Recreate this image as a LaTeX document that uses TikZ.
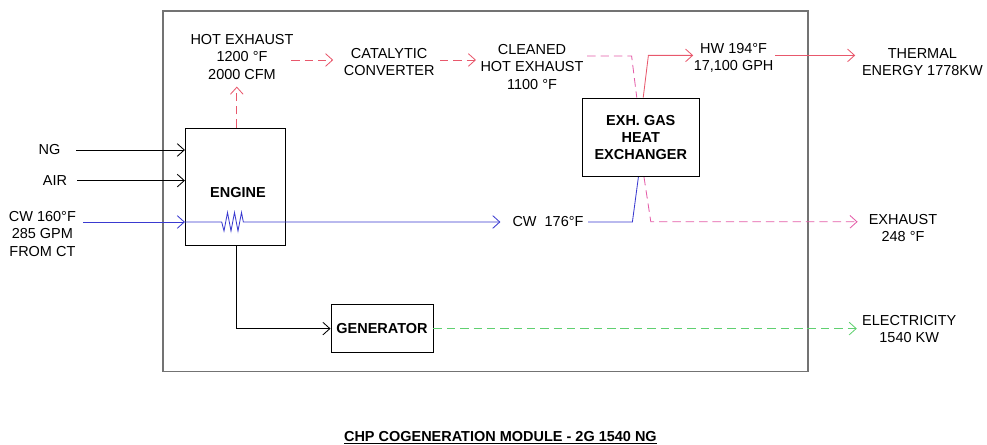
\documentclass[tikz,border=0pt]{standalone}
\usepackage{fontspec}
\setmainfont{Liberation Sans}
\usetikzlibrary{arrows.meta,calc,positioning}
\definecolor{gasred}{RGB}{232,88,108}
\definecolor{gaspink}{RGB}{228,92,168}
\definecolor{cwblue}{RGB}{58,58,208}
\definecolor{elgreen}{RGB}{96,208,112}
\tikzset{feed/.style={-{Straight Barb[length=5pt,width=9pt]}, line width=0.6pt},
  gas/.style={feed, dash pattern=on 6pt off 3.5pt},
  pipe/.style={line width=0.6pt},
  unit/.style={draw, line width=0.7pt, inner sep=0pt},
  lbl/.style={align=center, inner sep=0pt, font=\fontsize{10.3}{12.2}\selectfont},
  blbl/.style={lbl, font=\fontsize{10.3}{12.2}\selectfont\bfseries}}

\begin{document}
\begin{tikzpicture}
  \useasboundingbox (0,0) rectangle (24.675,11.125);
  % module boundary
  \draw[line width=1pt, black!55] (4.08,1.83) rectangle (20.2,10.85);
  % units
  \node[unit, minimum width=2.51cm, minimum height=2.94cm] (eng) at (5.89,6.45) {};
  \node[blbl] (engtxt) at (5.95,6.31) {ENGINE};
  \node[unit, blbl, minimum width=2.925cm, minimum height=1.96cm] (hx) at (16.02,7.69) {EXH. GAS\\HEAT\\EXCHANGER};
  \node[unit, blbl, minimum width=2.55cm, minimum height=1.18cm] (gen) at (9.55,2.91) {GENERATOR};
  % labels
  \node[lbl] (ng) at (1.24,7.375) {NG};
  \node[lbl] (air) at (1.375,6.6175) {AIR};
  \node[lbl] (cwin) at (1.06,5.275) {CW 160°F\\285 GPM\\FROM CT};
  \node[lbl] (cwret) at (13.7,5.575) {CW\ \ 176°F};
  \node[lbl] (hotex) at (6.05,9.7) {HOT EXHAUST\\1200 °F\\2000 CFM};
  \node[lbl] (cat) at (9.73,9.575) {CATALYTIC\\CONVERTER};
  \node[lbl] (clean) at (13.3,9.45) {CLEANED\\HOT EXHAUST\\1100 °F};
  \node[lbl] (hw) at (18.34,9.67) {HW 194°F\\17,100 GPH};
  \node[lbl] (therm) at (23.06,9.58) {THERMAL\\ENERGY 1778KW};
  \node[lbl] (exout) at (22.575,5.425) {EXHAUST\\248 °F};
  \node[lbl] (elec) at (22.73,2.89) {ELECTRICITY\\1540 KW};
  \node[blbl, anchor=base] (title) at (12.51,0.09) {\underline{CHP COGENERATION MODULE - 2G 1540 NG}};
  % flow points
  \coordinate (ngin) at (1.9,7.375);
  \coordinate (airin) at (1.93,6.61);
  \coordinate (cwa) at (2.075,5.575);
  \coordinate (cwb) at (12.51,5.575);
  \coordinate (cwc) at (14.7,5.575);
  \coordinate (exa) at (5.92,8.96);
  \coordinate (exb) at (7.28,9.625);
  \coordinate (exc) at (8.33,9.625);
  \coordinate (exd) at (11.0,9.625);
  \coordinate (exe) at (11.9,9.625);
  \coordinate (exf) at (14.68,9.725);
  \coordinate (exg) at (21.44,5.58);
  \coordinate (hwa) at (17.33,9.74);
  \coordinate (hwb) at (19.38,9.74);
  \coordinate (hwc) at (21.38,9.74);
  \coordinate (ela) at (21.42,2.91);
  % fuel and air
  \draw[feed] (ngin) -- (ngin -| eng.west);
  \draw[feed] (airin) -- (airin -| eng.west);
  % cooling water through jacket coil
  \draw[feed, cwblue] (cwa) -- (cwa -| eng.west);
  \draw[feed, cwblue] (cwa -| eng.west) -- (5.543,5.575) -- ++(0.057,-0.225) -- ++(0.0875,0.4625) -- ++(0.0875,-0.4625)
    -- ++(0.0875,0.4625) -- ++(0.0875,-0.4625) -- ++(0.0875,0.4625) -- ++(0.0455,-0.2375) -- (cwb);
  \draw[pipe, cwblue] (cwc) -- (15.81,5.575) -- ($(hx.south)+(-0.06,0)$);
  % exhaust path
  \draw[gas, gasred] (eng.north -| exa) -- (exa);
  \draw[gas, gasred] (exb) -- (exc);
  \draw[gas, gasred] (exd) -- (exe);
  \draw[pipe, gaspink, dash pattern=on 6pt off 3.5pt] (exf) -- (15.79,9.725) -- ($(hx.north)+(-0.1,0)$);
  \draw[gas, gaspink] ($(hx.south)+(0.08,0)$) -- (16.27,5.58) -- (exg);
  % hot water out
  \draw[feed, gasred] ($(hx.north)+(0.06,0)$) -- (16.21,9.74) -- (hwa);
  \draw[feed, gasred] (hwb) -- (hwc);
  % shaft and power
  \draw[feed] (eng.south -| exa) |- (gen.west);
  \draw[gas, elgreen] (gen.east) -- (ela);
\end{tikzpicture}
\end{document}
